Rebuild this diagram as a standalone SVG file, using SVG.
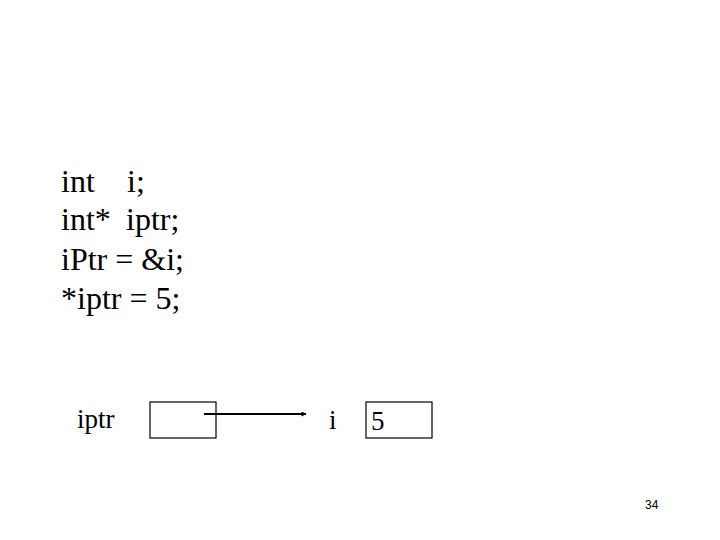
<svg xmlns="http://www.w3.org/2000/svg" width="720" height="540" viewBox="0 0 720 540">
<style>
.code{font-family:"Liberation Serif","Times New Roman",serif;font-size:32px;fill:#000}
.lbl{font-family:"Liberation Serif","Times New Roman",serif;font-size:27px;fill:#000}
.box{fill:#fff;stroke:#000;stroke-width:1.2}
.pg{font-family:"Liberation Sans",Arial,sans-serif;font-size:12px;fill:#000}
</style>
<defs>
<marker id="ah" viewBox="0 0 10 10" refX="9" refY="5" markerWidth="6" markerHeight="5" orient="auto" markerUnits="userSpaceOnUse">
<path d="M0,0 L10,5 L0,10 z" fill="#000"/>
</marker>
</defs>
<rect width="720" height="540" fill="#fff"/>
<g id="code">
<text class="code" x="61" y="192">int<tspan x="127">i;</tspan></text>
<text class="code" x="61" y="230">int*<tspan x="126">iptr;</tspan></text>
<text class="code" x="61" y="270">iPtr = &amp;i;</text>
<text class="code" x="61" y="309">*iptr = 5;</text>
</g>
<g id="iptr">
<text class="lbl" x="77" y="428">iptr</text>
<rect class="box" x="150" y="402" width="66" height="36"/>
</g>
<g id="i">
<text class="lbl" x="329" y="429">i</text>
<rect class="box" x="366" y="402" width="66" height="36"/>
<text class="lbl" x="371" y="430">5</text>
</g>
<g id="connectors">
<line x1="204" y1="414" x2="306" y2="414" stroke="#000" stroke-width="2" marker-end="url(#ah)"/>
</g>
<text class="pg" x="645" y="509">34</text>
</svg>
